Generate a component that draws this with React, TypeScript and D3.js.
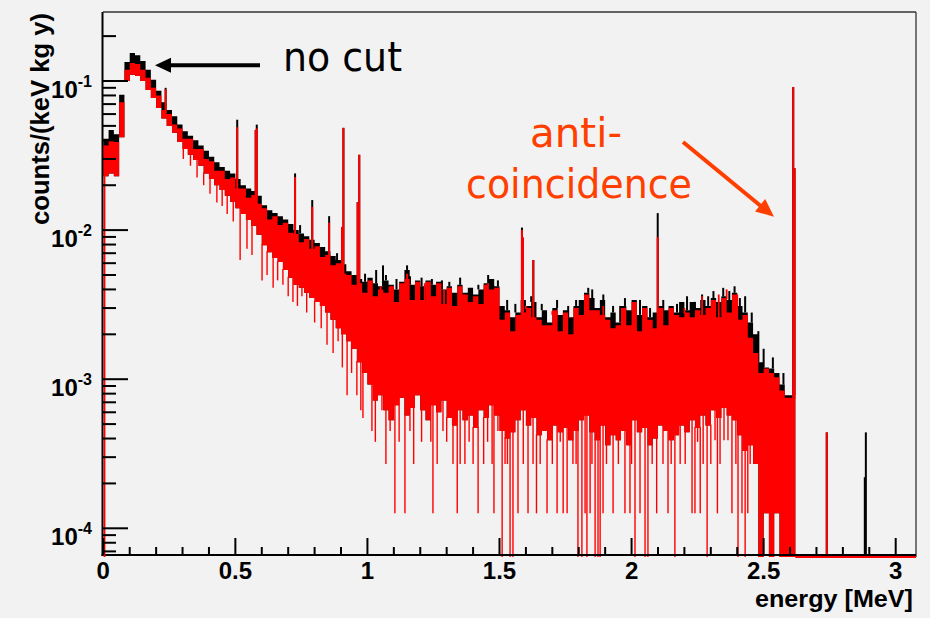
import React from 'react';
import * as d3 from 'd3';

// ---- data ----
// energy segments of 20 keV starting at 0 MeV
const SEG_WIDTH = 0.02;
const blackTop = [
  0.041, 0.047, 0.044, 0.081, 0.134, 0.154, 0.149, 0.136, 0.119, 0.102,
  0.086, 0.072, 0.064, 0.058, 0.051, 0.046, 0.043, 0.040, 0.037, 0.034,
  0.031, 0.0285, 0.0265, 0.025, 0.024, 0.022, 0.020, 0.019, 0.0183, 0.0170,
  0.0147, 0.0136, 0.0130, 0.0124, 0.0118, 0.0110, 0.0100, 0.0095, 0.0091, 0.0086,
  0.0082, 0.0077, 0.0072, 0.0067, 0.0063, 0.0059, 0.0053, 0.0050, 0.0047, 0.0045,
  0.0048, 0.0044, 0.0042, 0.0046, 0.0043, 0.0040, 0.0045, 0.0054, 0.0043, 0.0046,
  0.0042, 0.0046, 0.0043, 0.0045, 0.0040, 0.0042, 0.0038, 0.0043, 0.0038, 0.0041,
  0.0037, 0.0040, 0.0044, 0.0047, 0.0042, 0.0031, 0.0029, 0.0026, 0.0028, 0.0034,
  0.0031, 0.0033, 0.0026, 0.0029, 0.0024, 0.0030, 0.0027, 0.0029, 0.0026, 0.0031,
  0.0034, 0.0038, 0.0035, 0.0030, 0.0034, 0.0026, 0.0028, 0.0024, 0.0031, 0.0029,
  0.0034, 0.0027, 0.0031, 0.0026, 0.0028, 0.0031, 0.0029, 0.0031, 0.0028, 0.0033,
  0.0029, 0.0033, 0.0030, 0.0034, 0.0031, 0.0035, 0.0033, 0.0036, 0.0034, 0.0038,
  0.0031, 0.0028, 0.0024, 0.0020, 0.0013, 0.0012, 0.00118, 0.0011, 0.00092, 0.00078,
  0.00078,
];
const redTop = [
  0.037, 0.040, 0.039, 0.072, 0.119, 0.132, 0.130, 0.119, 0.105, 0.090,
  0.080, 0.064, 0.060, 0.051, 0.048, 0.041, 0.041, 0.035, 0.035, 0.030,
  0.029, 0.025, 0.025, 0.022, 0.0225, 0.019, 0.0190, 0.0165, 0.0172, 0.0150,
  0.0140, 0.0118, 0.0124, 0.0108, 0.0112, 0.0096, 0.0094, 0.0083, 0.0087, 0.0075,
  0.0078, 0.0066, 0.0068, 0.0058, 0.0060, 0.0051, 0.0050, 0.0043, 0.0044, 0.0038,
  0.0046, 0.0036, 0.0040, 0.0038, 0.0042, 0.0033, 0.0044, 0.0047, 0.0034, 0.0045,
  0.0034, 0.0045, 0.0036, 0.0044, 0.0032, 0.0041, 0.0031, 0.0042, 0.0037, 0.0033,
  0.0036, 0.0032, 0.0043, 0.0040, 0.0041, 0.0025, 0.0028, 0.0021, 0.0027, 0.0028,
  0.0030, 0.0026, 0.0025, 0.0023, 0.0023, 0.0029, 0.0021, 0.0028, 0.0020, 0.0030,
  0.0027, 0.0037, 0.0029, 0.0029, 0.0027, 0.0025, 0.0022, 0.0023, 0.0030, 0.0023,
  0.0033, 0.0021, 0.0030, 0.0025, 0.0022, 0.0030, 0.0023, 0.0030, 0.0027, 0.0026,
  0.0028, 0.0026, 0.0029, 0.0027, 0.0030, 0.0034, 0.0026, 0.0035, 0.0028, 0.0037,
  0.0025, 0.0027, 0.0019, 0.0015, 0.0011, 0.00118, 0.0011, 0.00103, 0.00084, 0.00075,
  0.00075,
];
const redBottom = [
  0.023, 0.024, 0.023, 0.042, 0.100, 0.110, 0.108, 0.100, 0.087, 0.077,
  0.066, 0.056, 0.050, 0.045, 0.039, 0.035, 0.032, 0.0295, 0.027, 0.024,
  0.022, 0.020, 0.0186, 0.017, 0.0155, 0.014, 0.0128, 0.0117, 0.0107, 0.0093,
  0.0079, 0.0071, 0.0065, 0.0061, 0.0054, 0.0048, 0.0043, 0.0041, 0.0038, 0.0035,
  0.0033, 0.0031, 0.0028, 0.0025, 0.0022, 0.0020, 0.0018, 0.0016, 0.0013, 0.0011,
  0.00092, 0.00072, 0.00078, 0.00062, 0.00053, 0.00067, 0.00075, 0.00057, 0.00064, 0.00078,
  0.00062, 0.00053, 0.00067, 0.00060, 0.00072, 0.00055, 0.00049, 0.00062, 0.00053, 0.00057,
  0.00047, 0.00062, 0.00055, 0.00067, 0.00057, 0.00045, 0.00040, 0.00044, 0.00053, 0.00062,
  0.00049, 0.00055, 0.00042, 0.00045, 0.00039, 0.00049, 0.00044, 0.00047, 0.00039, 0.00045,
  0.00053, 0.00057, 0.00044, 0.00039, 0.00049, 0.00036, 0.00042, 0.00039, 0.00045, 0.00036,
  0.00053, 0.00044, 0.00047, 0.00036, 0.00040, 0.00049, 0.00045, 0.00039, 0.00042, 0.00049,
  0.00044, 0.00053, 0.00047, 0.00057, 0.00049, 0.00062, 0.00055, 0.00064, 0.00057, 0.00053,
  0.00042, 0.00033, 0.00036, 0.00027, 0, 0.000126, 0, 0.000126, 0, 0,
  0,
];

// gamma lines (single bins sticking out of the continuum)
const peakEnergy = [0.236, 0.507, 0.577, 0.581, 0.726, 0.791, 0.855, 0.904, 0.909, 0.963, 0.969, 1.059, 1.150, 1.585, 1.589, 1.628, 2.099, 2.612, 2.617, 2.739, 2.883, 2.887];
const peakBlack = [0.090, 0.055, 0.047, 0.051, 0.024, 0.0159, 0.0124, 0.0105, 0.0485, 0.0154, 0.032, 0.0058, 0.0058, 0.0104, 0.0089, 0.0063, 0.0130, 0.091, 0.026, 0.00044, 0.00022, 0.00044];
const peakRed = [0.088, 0.049, 0.047, 0.048, 0.0227, 0.0143, 0.0112, 0.0105, 0.0485, 0.0154, 0.032, 0, 0.0051, 0.0100, 0.0089, 0.0063, 0.0090, 0.091, 0.026, 0.00044, 0, 0];

// single no-cut bins poking above the continuum
const blackSpikeEnergy = [0.745, 0.885, 0.991, 1.033, 1.070, 1.110, 1.161, 1.205, 1.244, 1.282, 1.310, 1.351, 1.420, 1.457, 1.494, 1.529, 1.560, 1.620, 1.660, 1.718, 1.760, 1.790, 1.836, 1.851, 1.893, 1.930, 1.957, 1.975, 2.032, 2.070, 2.120, 2.172, 2.210, 2.240, 2.267, 2.290, 2.310, 2.347, 2.370, 2.390, 2.410, 2.430, 2.455, 2.480, 2.500, 2.535, 2.575];
const blackSpikeValue = [0.0108, 0.0070, 0.0051, 0.0054, 0.0050, 0.0047, 0.0049, 0.0048, 0.0047, 0.0046, 0.0045, 0.0048, 0.0043, 0.0050, 0.0046, 0.0034, 0.0032, 0.0036, 0.0032, 0.0034, 0.0031, 0.0034, 0.0041, 0.0040, 0.0037, 0.0031, 0.0031, 0.0035, 0.0034, 0.0030, 0.0034, 0.0032, 0.0036, 0.0033, 0.0037, 0.0036, 0.0039, 0.0041, 0.0039, 0.0042, 0.0035, 0.0036, 0.0028, 0.0021, 0.0016, 0.0014, 0.0011];
// single anti-coincidence bins poking above the red continuum
const redSpikeEnergy = [1.050, 1.217, 1.290, 1.457, 1.490, 1.600, 1.700, 1.824, 1.893, 1.975, 2.010, 2.150, 2.200, 2.267, 2.330, 2.360, 2.400];
const redSpikeValue = [0.0042, 0.0044, 0.0040, 0.0044, 0.0040, 0.0031, 0.0027, 0.0031, 0.0031, 0.0029, 0.0031, 0.0029, 0.0030, 0.0036, 0.0037, 0.0040, 0.0037];

// low fluctuations of the anti-coincidence spectrum (0 = empty bin)
const dipEnergy = [0.303, 0.330, 0.355, 0.380, 0.404, 0.430, 0.450, 0.469, 0.492, 0.518, 0.544, 0.563, 0.601, 0.620, 0.643, 0.660, 0.680, 0.700, 0.718, 0.735, 0.752, 0.770, 0.800, 0.825, 0.847, 0.870, 0.889, 0.905, 0.923, 0.940, 0.960, 0.975, 0.983, 1.017, 1.030, 1.055, 1.070, 1.086, 1.104, 1.120, 1.142, 1.161, 1.175, 1.188, 1.205, 1.226, 1.240, 1.248, 1.264, 1.286, 1.300, 1.324, 1.340, 1.351, 1.369, 1.385, 1.400, 1.419, 1.440, 1.455, 1.472, 1.479, 1.494, 1.510, 1.521, 1.530, 1.540, 1.551, 1.570, 1.590, 1.608, 1.627, 1.640, 1.654, 1.680, 1.700, 1.718, 1.730, 1.741, 1.756, 1.778, 1.790, 1.797, 1.812, 1.824, 1.831, 1.843, 1.850, 1.862, 1.873, 1.881, 1.892, 1.905, 1.930, 1.950, 1.975, 1.994, 2.000, 2.013, 2.032, 2.051, 2.062, 2.078, 2.095, 2.119, 2.138, 2.150, 2.164, 2.184, 2.203, 2.229, 2.240, 2.250, 2.260, 2.271, 2.286, 2.300, 2.316, 2.325, 2.335, 2.350, 2.365, 2.380, 2.395, 2.403, 2.418, 2.430, 2.440, 2.449];
const dipRed = [0.030, 0.027, 0.0225, 0.020, 0.0175, 0.0153, 0.0145, 0.0128, 0.0114, 0.0063, 0.0075, 0.0068, 0.0046, 0.0050, 0.0041, 0.0046, 0.0043, 0.0036, 0.0033, 0.0031, 0.0036, 0.0028, 0.0024, 0.0022, 0.0017, 0.0015, 0.0018, 0.0012, 0.00078, 0.0011, 0.00078, 0.00062, 0.00055, 0.00045, 0.00038, 0.00062, 0.00027, 0.00045, 0.000126, 0.00038, 0.000126, 0.00045, 0.00027, 0.00078, 0.00038, 0.00057, 0.00038, 0.000126, 0.00027, 0.00045, 0.00038, 0.00027, 0.000126, 0.00027, 0.00027, 0.00038, 0.00027, 0.000126, 0.00027, 0.00038, 0.00027, 0.000126, 0.00045, 0, 0.00027, 0.00027, 0, 0, 0.000126, 0.00027, 0.000126, 0.00027, 0.000126, 0.00027, 0.000126, 0.00027, 0.000126, 0.00038, 0.000126, 0.000126, 0.00027, 0.00027, 0, 0, 0.000126, 0, 0.000126, 0.00027, 0, 0, 0, 0.000126, 0.00027, 0.000126, 0.00027, 0.000126, 0.000126, 0.00027, 0, 0.000126, 0, 0, 0.00027, 0.000126, 0.00027, 0.000126, 0.00027, 0, 0.00027, 0.00027, 0.000126, 0.000126, 0.00038, 0.000126, 0.00027, 0, 0.00027, 0.00039, 0.000126, 0.00027, 0.00039, 0.00039, 0.000126, 0.00027, 0, 0.000126, 0, 0.000126, 0.00027];

const xTickValues = [0, 0.5, 1, 1.5, 2, 2.5, 3];
const xTickLabels = ['0', '0.5', '1', '1.5', '2', '2.5', '3'];
const yTickExponents = [-1, -2, -3, -4];

const AXIS_FONT = "'Liberation Sans', Arial, Helvetica, sans-serif";
const NOTE_FONT = "'Comic Sans MS', 'DejaVu Sans', sans-serif";
const ORANGE = '#ff3f00';

type Row = { e: number; b: number; rt: number; rb: number };

export default function App() {
  const W = 930, H = 618;
  const left = 103, right = 916, top = 12, bottom = 555;
  const ZERO_Y = 557;
  const x = d3.scaleLinear().domain([0, 3]).range([103.3, 895.7]);
  const y = d3.scaleLog().domain([1e-4, 1e-1]).range([528.3, 81]);
  const yv = (v: number) => (v > 0 ? Math.min(y(v), ZERO_Y) : ZERO_Y);

  const n = blackTop.length;
  const rows: Row[] = blackTop.map((b, i) => ({ e: i * SEG_WIDTH, b, rt: redTop[i], rb: redBottom[i] }));
  rows.push({ ...rows[n - 1], e: n * SEG_WIDTH });

  const blackArea = d3.area<Row>().x(d => x(d.e)).y0(d => yv(d.rb)).y1(d => yv(d.b)).curve(d3.curveStepAfter);
  const redArea = d3.area<Row>().x(d => x(d.e)).y0(d => yv(d.rb)).y1(d => yv(d.rt)).curve(d3.curveStepAfter);

  const segOf = (e: number) => Math.floor(e / SEG_WIDTH);
  const baseOf = (arr: number[], e: number) => {
    const s = segOf(e);
    return s < n ? yv(arr[s]) : ZERO_Y;
  };

  // y ticks
  const yMinor: number[] = [];
  for (let e = -5; e <= 0; e++) {
    for (let m = 2; m <= 9; m++) {
      const v = m * Math.pow(10, e);
      const py = y(v);
      if (py > top + 1 && py < bottom - 1) yMinor.push(v);
    }
  }
  const xMinor = d3.range(0, 31).map(i => i / 10).filter(v => x(v) < right - 1);

  return (
    <svg width={W} height={H} style={{ position: 'absolute', left: 0, top: 0, background: '#f2f2f2' }}>
      <rect x={0} y={0} width={W} height={H} fill="#f2f2f2" />

      {/* no cut spectrum */}
      <path d={blackArea(rows) || ''} fill="#000" />
      {blackSpikeEnergy.map((e, i) => (
        <line key={'bs' + i} x1={x(e)} x2={x(e)} y1={baseOf(blackTop, e)} y2={yv(blackSpikeValue[i])} stroke="#000" strokeWidth={2} />
      ))}
      {peakEnergy.map((e, i) =>
        peakBlack[i] > 0 ? (
          <line key={'pb' + i} x1={x(e)} x2={x(e)} y1={baseOf(blackTop, e)} y2={yv(peakBlack[i])} stroke="#000" strokeWidth={2} />
        ) : null
      )}

      {/* anti-coincidence spectrum */}
      <path d={redArea(rows) || ''} fill="#ff0000" />
      {dipEnergy.map((e, i) => (
        <line key={'d' + i} x1={x(e)} x2={x(e)} y1={baseOf(redBottom, e) - 1} y2={yv(dipRed[i])} stroke="#ff0000" strokeWidth={1.4} />
      ))}
      {redSpikeEnergy.map((e, i) => (
        <line key={'rs' + i} x1={x(e)} x2={x(e)} y1={baseOf(redTop, e) + 1} y2={yv(redSpikeValue[i])} stroke="#ff0000" strokeWidth={1.8} />
      ))}
      {peakEnergy.map((e, i) =>
        peakRed[i] > 0 ? (
          <line key={'pr' + i} x1={x(e)} x2={x(e)} y1={baseOf(redTop, e) + 1} y2={yv(peakRed[i])} stroke="#ff0000" strokeWidth={2} />
        ) : null
      )}

      {/* frame */}
      <line x1={left} x2={right} y1={top} y2={top} stroke="#333" strokeWidth={1.3} />
      <line x1={right} x2={right} y1={top} y2={bottom + 2} stroke="#333" strokeWidth={1.3} />
      <line x1={left - 0.5} x2={left - 0.5} y1={top} y2={bottom + 1} stroke="#000" strokeWidth={2} />
      <line x1={left - 1.5} x2={right} y1={bottom} y2={bottom} stroke="#000" strokeWidth={2.2} />

      {/* red zero-level line and first bin edge */}
      <line x1={x(n * SEG_WIDTH)} x2={right} y1={ZERO_Y} y2={ZERO_Y} stroke="#ff0000" strokeWidth={1.8} />
      <line x1={x(0) + 1.2} x2={x(0) + 1.2} y1={ZERO_Y} y2={yv(redTop[0])} stroke="#ff0000" strokeWidth={1.8} />

      {/* y ticks */}
      {yTickExponents.map(ex => (
        <line key={'yM' + ex} x1={left} x2={left + 25} y1={y(Math.pow(10, ex))} y2={y(Math.pow(10, ex))} stroke="#000" strokeWidth={2} />
      ))}
      {yMinor.map((v, i) => (
        <line key={'ym' + i} x1={left} x2={left + 13} y1={y(v)} y2={y(v)} stroke="#000" strokeWidth={2} />
      ))}
      {/* x ticks */}
      {xMinor.map((v, i) => {
        const major = Math.abs(v * 2 - Math.round(v * 2)) < 1e-6;
        return (
          <line key={'xm' + i} x1={x(v)} x2={x(v)} y1={bottom} y2={bottom - (major ? 17 : 8)} stroke="#000" strokeWidth={2} />
        );
      })}

      {/* tick labels */}
      {yTickExponents.map(ex => (
        <text key={'yl' + ex} x={92} y={y(Math.pow(10, ex)) + 16.5} textAnchor="end" fontFamily={AXIS_FONT} fontWeight="bold" fontSize={24} fill="#000">
          10<tspan dy={-10.5} fontSize={16}>{String(ex)}</tspan>
        </text>
      ))}
      {xTickValues.map((v, i) => (
        <text key={'xl' + i} x={x(v)} y={579} textAnchor="middle" fontFamily={AXIS_FONT} fontWeight="bold" fontSize={24} fill="#000">
          {xTickLabels[i]}
        </text>
      ))}

      {/* axis titles */}
      <text x={913} y={607} textAnchor="end" fontFamily={AXIS_FONT} fontWeight="bold" fontSize={24} textLength={158} lengthAdjust="spacingAndGlyphs" fill="#000">energy [MeV]</text>
      <text transform="translate(49,13) rotate(-90)" textAnchor="end" fontFamily={AXIS_FONT} fontWeight="bold" fontSize={25.6} fill="#000">counts/(keV kg y)</text>

      {/* annotations */}
      <line x1={260} x2={168} y1={65.3} y2={65.3} stroke="#000" strokeWidth={4} />
      <polygon points="155,65.3 171,57.8 171,72.8" fill="#000" />
      <text x={283} y={71} fontFamily={NOTE_FONT} fontSize={40} textLength={119} lengthAdjust="spacingAndGlyphs" fill="#000">no cut</text>

      <text x={530} y={147} fontFamily={NOTE_FONT} fontSize={40} textLength={92} lengthAdjust="spacingAndGlyphs" fill={ORANGE}>anti-</text>
      <text x={466} y={198} fontFamily={NOTE_FONT} fontSize={40} textLength={226} lengthAdjust="spacingAndGlyphs" fill={ORANGE}>coincidence</text>
      <line x1={683} y1={142} x2={762} y2={207} stroke={ORANGE} strokeWidth={4} />
      <polygon points="774,216.7 755,211.4 765.2,199" fill={ORANGE} />
    </svg>
  );
}
